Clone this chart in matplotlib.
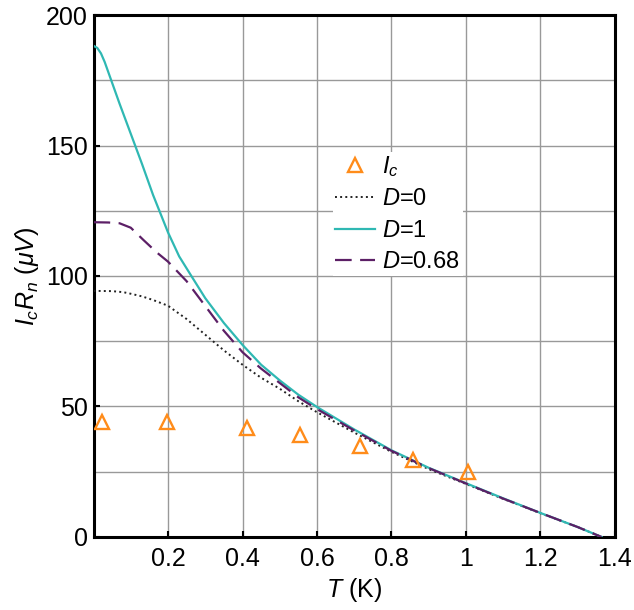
import numpy as np
import matplotlib
matplotlib.use('Agg')
import matplotlib.pyplot as plt
from matplotlib.ticker import MultipleLocator

plt.rcParams['font.family'] = 'Liberation Sans'
plt.rcParams['mathtext.fontset'] = 'custom'
plt.rcParams['mathtext.rm'] = 'Liberation Sans'
plt.rcParams['mathtext.it'] = 'Liberation Sans:italic'

# measured critical current data
T_ic = [0.022, 0.196, 0.411, 0.554, 0.715, 0.858, 1.006]
IcRn_ic = [44.2, 44.2, 41.6, 39.0, 35.0, 29.5, 25.0]

# theory curves
T_d0 = [0.0, 0.05, 0.08, 0.1, 0.13, 0.16, 0.2, 0.25, 0.3, 0.35, 0.4, 0.45, 0.5, 0.55,
        0.6, 0.7, 0.8, 0.9, 1.0, 1.1, 1.2, 1.3, 1.364]
IcRn_d0 = [94.3, 94.2, 93.8, 93.2, 92.2, 90.8, 88.6, 83.5, 77.5, 71.5, 66.0, 61.0, 56.8, 52.0,
           47.8, 40.0, 32.6, 26.0, 20.3, 14.6, 9.1, 3.8, 0.0]

T_d1 = [0.0, 0.01, 0.02, 0.03, 0.044, 0.07, 0.1, 0.13, 0.16, 0.2, 0.23, 0.264, 0.3, 0.35, 0.4, 0.45,
        0.5, 0.55, 0.6, 0.7, 0.8, 0.9, 1.0, 1.1, 1.2, 1.3, 1.364]
IcRn_d1 = [188.2, 187.4, 185.3, 182.0, 176.4, 166.0, 154.5, 143.0, 131.0, 116.7, 107.5, 99.7, 91.5,
           82.0, 73.6, 66.0, 60.0, 54.5, 49.8, 41.2, 33.2, 26.5, 20.6, 14.8, 9.2, 3.8, 0.0]

T_d68 = [0.0, 0.04, 0.07, 0.1, 0.134, 0.17, 0.2, 0.25, 0.3, 0.35, 0.4, 0.45, 0.5, 0.55,
         0.6, 0.7, 0.8, 0.9, 1.0, 1.1, 1.2, 1.3, 1.364]
IcRn_d68 = [120.6, 120.5, 120.2, 118.5, 113.8, 109.0, 105.5, 98.0, 88.5, 79.0, 70.8, 64.5, 59.0, 53.5,
            49.0, 40.8, 33.0, 26.4, 20.5, 14.7, 9.2, 3.8, 0.0]

fig = plt.figure(figsize=(6.34, 6.10), dpi=100)
ax = fig.add_axes([0.1475, 0.1197, 0.8225, 0.8557])

ax.plot(T_ic, IcRn_ic, linestyle='none', marker='^', markersize=10, mfc='none', mec='#ff8c1a', mew=1.7,
        label='$I_c$', zorder=4)
ax.plot(T_d0, IcRn_d0, ':', color='#222222', lw=1.4, label='$D$=0', zorder=3)
ax.plot(T_d1, IcRn_d1, '-', color='#2fb8b3', lw=1.6, label='$D$=1', zorder=3)
ax.plot(T_d68, IcRn_d68, '--', color='#5c1f66', lw=1.6, dashes=(7.5, 3.8), label='$D$=0.68', zorder=3)

ax.set_xlim(0, 1.4)
ax.set_ylim(0, 200)
ax.set_xticks([0.2, 0.4, 0.6, 0.8, 1.0, 1.2, 1.4])
ax.set_xticklabels(['0.2', '0.4', '0.6', '0.8', '1', '1.2', '1.4'])
ax.set_yticks([0, 50, 100, 150, 200])
ax.yaxis.set_minor_locator(MultipleLocator(25))
ax.grid(True, which='both', color='#999999', lw=1.0)
ax.set_axisbelow(True)
ax.tick_params(axis='both', which='major', direction='in', length=4, width=1.5, labelsize=18)
ax.tick_params(axis='y', which='minor', length=0)
ax.tick_params(axis='x', pad=7)
ax.tick_params(axis='y', pad=4)
for s in ax.spines.values():
    s.set_linewidth(2.2)
    s.set_color('black')

ax.set_xlabel('$T$ (K)', fontsize=18, labelpad=4)
ax.set_ylabel(r'$I_c R_n$ ($\mu V$)', fontsize=18, labelpad=4)

leg = ax.legend(loc='upper left', bbox_to_anchor=(0.459, 0.738), fontsize=17, frameon=True,
                framealpha=1, facecolor='white', edgecolor='none', handlelength=1.7,
                labelspacing=0.4, borderpad=0.1, handletextpad=0.3, borderaxespad=0,
                fancybox=False)

fig.savefig('out.png', dpi=100)
